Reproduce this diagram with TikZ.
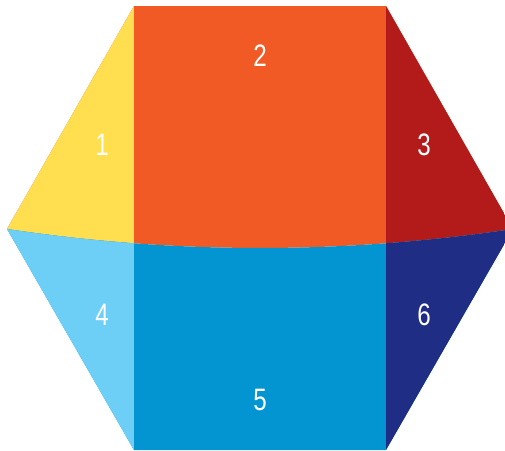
\documentclass[tikz,border=0pt]{standalone}
\usepackage{fontspec}
\usepackage{tikz}
\usetikzlibrary{positioning,calc}
\newfontfamily\numfont[FakeStretch=0.78]{Liberation Sans}
\definecolor{hexyellow}{RGB}{255,223,79}
\definecolor{hexorange}{RGB}{241,90,36}
\definecolor{hexred}{RGB}{179,27,27}
\definecolor{hexlightblue}{RGB}{110,207,246}
\definecolor{hexblue}{RGB}{2,149,209}
\definecolor{hexnavy}{RGB}{32,45,132}

\begin{document}
\begin{tikzpicture}[
      x=1pt,y=-1pt,
      num/.style={text=white,inner sep=0pt,font=\numfont\fontsize{31}{31}\selectfont}
    ]
    \useasboundingbox (0,0) rectangle (505,450);
    \coordinate (L) at (7,229);
    \coordinate (R) at (513,229);
    \coordinate (TL) at (134,6);
    \coordinate (TR) at (386,6);
    \coordinate (BL) at (134,450);
    \coordinate (BR) at (386,450);
    \coordinate (C1) at (175.7,254.3);
    \coordinate (C2) at (344.3,254.3);

    % upper half
    \begin{scope}
      \clip (L) -- (TL) -- (TR) -- (R) .. controls (C2) and (C1) .. (L) -- cycle;
      \fill[hexorange] (0,0) rectangle (520,270);
      \fill[hexyellow] (0,0) rectangle (134,270);
      \fill[hexred] (386,0) rectangle (520,270);
    \end{scope}

    % lower half
    \begin{scope}
      \clip (L) .. controls (C1) and (C2) .. (R) -- (BR) -- (BL) -- cycle;
      \fill[hexblue] (0,220) rectangle (520,460);
      \fill[hexlightblue] (0,220) rectangle (134,460);
      \fill[hexnavy] (386,220) rectangle (520,460);
    \end{scope}

    \node[num] (n1) at (102,145) {1};
    \node[num] (n2) at (260,56) {2};
    \node[num] (n3) at (424,145) {3};
    \node[num] (n4) at (102,315) {4};
    \node[num] (n5) at (260,400) {5};
    \node[num] (n6) at (424,315) {6};
  \end{tikzpicture}
\end{document}
